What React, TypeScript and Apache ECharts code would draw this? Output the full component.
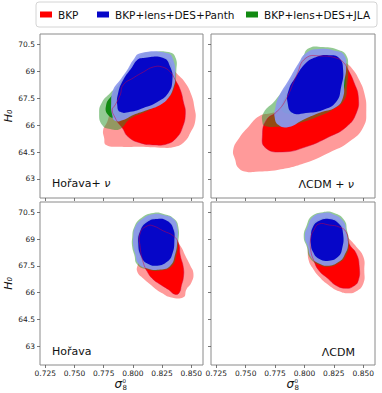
import React, { useEffect, useRef } from 'react';
import * as echarts from 'echarts';

const FONT = 'DejaVu Sans';

// axis settings (sigma_8^0 on x, H_0 on y)
const X_TICKS = [0.725, 0.75, 0.775, 0.8, 0.825, 0.85];
const Y_TICKS = [63, 64.5, 66, 67.5, 69, 70.5];
const X_MIN = 0.7205;
const X_MAX = 0.86;
const Y_MIN = 61.94;
const Y_MAX = 71.08;

const SERIES_NAMES = ['BKP', 'BKP+lens+DES+Panth', 'BKP+lens+DES+JLA'];
const PANEL_LABELS = ['Hořava+ ν', 'ΛCDM + ν', 'Hořava', 'ΛCDM'];

// ---------- Panel 1: Hořava + ν ----------
const HNU_BKP_95 = [[0.7754,65.29],[0.7771,64.90],[0.7891,64.79],[0.8063,64.79],[0.8234,64.74],[0.8363,64.79],[0.8441,65.07],[0.8492,65.57],[0.8535,66.29],[0.8526,67.01],[0.8501,67.68],[0.8449,68.35],[0.8380,68.85],[0.8295,69.35],[0.8174,69.46],[0.8063,69.07],[0.7951,68.35],[0.7866,67.40],[0.7806,66.68],[0.7780,66.18],[0.7746,65.74]];
const HNU_BKP_68 = [[0.7909,65.85],[0.7960,65.35],[0.8063,65.01],[0.8192,64.90],[0.8295,64.96],[0.8372,65.29],[0.8423,65.85],[0.8449,66.68],[0.8432,67.29],[0.8406,67.96],[0.8363,68.51],[0.8320,68.96],[0.8252,69.24],[0.8174,69.24],[0.8089,68.96],[0.8003,68.63],[0.7917,68.24],[0.7891,67.68],[0.7849,67.13],[0.7823,66.85],[0.7849,66.40],[0.7874,66.13]];
const HNU_JLA_95 = [[0.7737,67.29],[0.7806,67.79],[0.7891,68.35],[0.7977,69.24],[0.8063,69.90],[0.8174,70.07],[0.8303,70.07],[0.8363,69.79],[0.8372,69.07],[0.8346,67.96],[0.8260,67.29],[0.8123,66.79],[0.7977,66.35],[0.7891,65.79],[0.7806,65.79],[0.7737,66.01],[0.7711,66.68]];
const HNU_JLA_68 = [[0.7771,67.13],[0.7823,67.68],[0.7891,68.35],[0.7977,69.07],[0.8063,69.63],[0.8192,69.79],[0.8303,69.63],[0.8338,68.96],[0.8320,68.07],[0.8234,67.40],[0.8106,66.96],[0.7960,66.57],[0.7866,66.40],[0.7788,66.57]];
const HNU_PAN_95 = [[0.8063,70.01],[0.8295,70.01],[0.8346,69.63],[0.8363,68.68],[0.8346,68.07],[0.8303,67.51],[0.8234,67.13],[0.8123,66.85],[0.8003,66.57],[0.7917,66.29],[0.7849,66.24],[0.7823,66.57],[0.7814,67.24],[0.7831,67.96],[0.7891,68.51],[0.7951,69.07],[0.8003,69.63]];
const HNU_PAN_68 = [[0.8089,69.74],[0.8260,69.74],[0.8320,69.24],[0.8338,68.51],[0.8303,67.79],[0.8209,67.29],[0.8089,66.96],[0.7977,66.74],[0.7891,66.74],[0.7866,67.13],[0.7874,67.79],[0.7917,68.51],[0.7994,69.24],[0.8037,69.63]];

// ---------- Panel 2: ΛCDM + ν ----------
const LNU_BKP_95 = [[0.7394,64.63],[0.7411,64.07],[0.7437,63.63],[0.7505,63.40],[0.7583,63.40],[0.7780,63.51],[0.8012,63.90],[0.8209,64.46],[0.8380,65.07],[0.8501,65.90],[0.8526,66.85],[0.8509,67.79],[0.8466,68.51],[0.8415,69.07],[0.8355,69.46],[0.8277,69.74],[0.8149,69.51],[0.8020,68.79],[0.7891,67.68],[0.7823,66.96],[0.7720,66.68],[0.7617,66.51],[0.7522,65.90],[0.7445,65.29]];
const LNU_BKP_68 = [[0.7643,65.46],[0.7668,64.74],[0.7814,64.51],[0.8012,64.79],[0.8209,65.35],[0.8355,65.90],[0.8441,66.68],[0.8458,67.57],[0.8423,68.35],[0.8372,69.07],[0.8329,69.51],[0.8269,69.74],[0.8149,69.85],[0.8012,69.74],[0.7934,68.79],[0.7840,67.40],[0.7763,66.74],[0.7677,66.29]];
const LNU_JLA_95 = [[0.7643,66.13],[0.7651,66.68],[0.7754,67.40],[0.7900,68.68],[0.7986,69.79],[0.8037,70.29],[0.8157,70.35],[0.8295,70.18],[0.8355,69.90],[0.8372,69.24],[0.8363,68.24],[0.8338,67.40],[0.8234,66.85],[0.8106,66.46],[0.7986,66.18],[0.7840,65.96],[0.7728,65.90],[0.7660,65.96]];
const LNU_JLA_68 = [[0.7823,67.40],[0.7934,68.51],[0.8020,69.46],[0.8149,69.79],[0.8277,69.63],[0.8338,68.96],[0.8329,67.85],[0.8234,67.13],[0.8063,66.74],[0.7891,66.63],[0.7806,66.85]];
const LNU_PAN_95 = [[0.7754,67.01],[0.7780,67.57],[0.7866,68.51],[0.7951,69.46],[0.8012,70.01],[0.8123,70.24],[0.8269,70.13],[0.8338,69.90],[0.8355,69.24],[0.8338,68.35],[0.8329,67.57],[0.8269,67.01],[0.8123,66.68],[0.7986,66.29],[0.7866,65.90],[0.7780,66.01],[0.7746,66.46]];
const LNU_PAN_68 = [[0.7857,67.24],[0.7866,67.96],[0.7926,68.68],[0.8012,69.46],[0.8097,69.79],[0.8209,69.90],[0.8295,69.74],[0.8329,69.07],[0.8312,68.12],[0.8269,67.29],[0.8157,66.85],[0.8012,66.68],[0.7900,66.68]];

// ---------- Panel 3: Hořava ----------
const H_BKP_95 = [[0.8037,67.18],[0.8046,67.68],[0.8063,68.24],[0.8106,68.79],[0.8192,69.35],[0.8277,69.35],[0.8346,69.07],[0.8406,68.63],[0.8449,68.07],[0.8492,67.51],[0.8518,67.07],[0.8501,66.57],[0.8458,66.18],[0.8432,65.74],[0.8320,65.74],[0.8252,65.96],[0.8200,66.18],[0.8149,66.46],[0.8089,66.79]];
const H_BKP_68 = [[0.8063,69.35],[0.8123,69.74],[0.8174,69.74],[0.8260,69.46],[0.8346,69.18],[0.8389,68.79],[0.8406,68.07],[0.8432,67.40],[0.8432,66.85],[0.8415,66.40],[0.8398,66.01],[0.8363,65.90],[0.8303,66.18],[0.8234,66.46],[0.8166,66.79],[0.8123,67.18],[0.8089,67.68],[0.8063,68.51]];
const H_JLA_95 = [[0.7994,69.07],[0.8012,69.68],[0.8072,70.18],[0.8174,70.46],[0.8269,70.40],[0.8355,70.13],[0.8389,69.68],[0.8389,68.85],[0.8372,68.12],[0.8329,67.46],[0.8234,67.24],[0.8123,67.29],[0.8037,67.57],[0.8012,68.12],[0.7994,68.57]];
const H_JLA_68 = [[0.8054,69.46],[0.8114,70.01],[0.8209,70.18],[0.8303,70.01],[0.8355,69.57],[0.8363,68.85],[0.8346,68.12],[0.8295,67.68],[0.8209,67.46],[0.8114,67.57],[0.8063,68.01],[0.8037,68.74]];
const H_PAN_95 = [[0.8003,69.13],[0.8020,69.68],[0.8080,70.13],[0.8174,70.40],[0.8260,70.35],[0.8346,70.13],[0.8380,69.68],[0.8380,68.90],[0.8363,68.18],[0.8320,67.51],[0.8234,67.29],[0.8123,67.35],[0.8046,67.63],[0.8020,68.18],[0.8003,68.63]];
const H_PAN_68 = [[0.8063,69.46],[0.8123,69.96],[0.8209,70.13],[0.8295,70.01],[0.8346,69.57],[0.8355,68.90],[0.8338,68.18],[0.8295,67.74],[0.8209,67.51],[0.8123,67.63],[0.8072,68.01],[0.8046,68.74]];

// ---------- Panel 4: ΛCDM ----------
const L_BKP_95 = [[0.8029,68.35],[0.8037,69.07],[0.8106,69.74],[0.8192,69.96],[0.8277,69.74],[0.8372,69.07],[0.8441,68.57],[0.8501,68.01],[0.8509,67.24],[0.8501,66.51],[0.8441,66.07],[0.8372,65.96],[0.8295,66.07],[0.8209,66.40],[0.8123,66.90],[0.8072,67.35],[0.8037,67.79]];
const L_BKP_68 = [[0.8054,68.35],[0.8054,69.07],[0.8080,69.51],[0.8123,69.85],[0.8209,69.79],[0.8295,69.68],[0.8355,69.40],[0.8380,68.74],[0.8441,68.18],[0.8466,67.46],[0.8458,66.68],[0.8415,66.35],[0.8355,66.24],[0.8269,66.40],[0.8200,66.79],[0.8123,67.24],[0.8080,67.79]];
const L_JLA_95 = [[0.7994,69.13],[0.8020,69.79],[0.8063,70.29],[0.8157,70.51],[0.8252,70.46],[0.8338,70.07],[0.8363,69.46],[0.8380,68.74],[0.8346,68.01],[0.8295,67.68],[0.8209,67.46],[0.8123,67.57],[0.8046,67.96],[0.8020,68.57]];
const L_JLA_68 = [[0.8046,69.13],[0.8063,69.74],[0.8114,70.07],[0.8209,70.18],[0.8303,69.90],[0.8338,69.29],[0.8329,68.40],[0.8286,67.96],[0.8209,67.74],[0.8114,67.85],[0.8063,68.29],[0.8046,68.74]];
const L_PAN_95 = [[0.8003,69.13],[0.8029,69.74],[0.8072,70.24],[0.8157,70.46],[0.8243,70.40],[0.8329,70.01],[0.8355,69.46],[0.8372,68.74],[0.8338,68.07],[0.8295,67.74],[0.8209,67.51],[0.8123,67.63],[0.8054,68.01],[0.8029,68.57]];
const L_PAN_68 = [[0.8054,69.13],[0.8072,69.68],[0.8123,70.01],[0.8209,70.13],[0.8295,69.85],[0.8329,69.29],[0.8320,68.46],[0.8286,68.01],[0.8209,67.79],[0.8123,67.90],[0.8072,68.29],[0.8054,68.74]];

const PANELS = [
  { bkp: [HNU_BKP_95, HNU_BKP_68], jla: [HNU_JLA_95, HNU_JLA_68], pan: [HNU_PAN_95, HNU_PAN_68] },
  { bkp: [LNU_BKP_95, LNU_BKP_68], jla: [LNU_JLA_95, LNU_JLA_68], pan: [LNU_PAN_95, LNU_PAN_68] },
  { bkp: [H_BKP_95, H_BKP_68], jla: [H_JLA_95, H_JLA_68], pan: [H_PAN_95, H_PAN_68] },
  { bkp: [L_BKP_95, L_BKP_68], jla: [L_JLA_95, L_JLA_68], pan: [L_PAN_95, L_PAN_68] },
];

const GRIDS = [
  { left: 40, top: 34, width: 163, height: 164 },
  { left: 211, top: 34, width: 164, height: 164 },
  { left: 40, top: 202, width: 163, height: 163 },
  { left: 211, top: 202, width: 164, height: 163 },
];

const COLORS = {
  bkp: ['#ff9a9a', '#ff0000'],
  jla: ['rgba(40,150,40,0.5)', '#128a12'],
  pan: ['rgba(140,152,238,0.93)', '#0606c8'],
};
const LEGEND_COLORS = ['#ff0000', '#0606c8', '#128a12'];

function polySeries(name: string, panel: number, pts: number[][], fill: string, legendColor: string, stroke?: string) {
  return {
    type: 'custom',
    name,
    xAxisIndex: panel,
    yAxisIndex: panel,
    silent: true,
    itemStyle: { color: legendColor },
    encode: { x: 0, y: 1 },
    data: pts,
    renderItem: (params: any, api: any) => {
      if (params.dataIndex !== 0) return null;
      const points = pts.map((p) => api.coord(p));
      return {
        type: 'polygon',
        shape: { points, smooth: 0.5 },
        style: stroke ? { fill: 'none', stroke, lineWidth: 0.8 } : { fill },
      };
    },
  };
}

function buildOption() {
  const series: any[] = [];
  PANELS.forEach((p, i) => {
    series.push(polySeries(SERIES_NAMES[0], i, p.bkp[0], COLORS.bkp[0], LEGEND_COLORS[0]));
    series.push(polySeries(SERIES_NAMES[0], i, p.bkp[1], COLORS.bkp[1], LEGEND_COLORS[0]));
    series.push(polySeries(SERIES_NAMES[2], i, p.jla[0], COLORS.jla[0], LEGEND_COLORS[2]));
    series.push(polySeries(SERIES_NAMES[2], i, p.jla[1], COLORS.jla[1], LEGEND_COLORS[2]));
    series.push(polySeries(SERIES_NAMES[1], i, p.pan[0], COLORS.pan[0], LEGEND_COLORS[1]));
    series.push(polySeries(SERIES_NAMES[1], i, p.pan[1], COLORS.pan[1], LEGEND_COLORS[1]));
    series.push(polySeries('bkp-edge', i, p.bkp[1], 'none', LEGEND_COLORS[0], 'rgba(210,0,60,0.6)'));
  });

  const grid = GRIDS.map((g) => ({ ...g, show: true, borderColor: '#8a8a8a', borderWidth: 1, backgroundColor: '#fff' }));

  const xAxis = GRIDS.map((_, i) => ({
    type: 'value',
    gridIndex: i,
    min: X_MIN,
    max: X_MAX,
    splitLine: { show: false },
    axisLine: { show: false },
    axisTick: { show: true, length: 3, lineStyle: { color: '#555', width: 0.8 }, customValues: X_TICKS },
    axisLabel: {
      show: i >= 2,
      customValues: X_TICKS,
      formatter: (v: number) => v.toFixed(3),
      fontSize: 7.5,
      fontFamily: FONT,
      color: '#222',
      margin: 4,
    },
  }));

  const yAxis = GRIDS.map((_, i) => ({
    type: 'value',
    gridIndex: i,
    min: Y_MIN,
    max: Y_MAX,
    splitLine: { show: false },
    axisLine: { show: false },
    axisTick: { show: true, length: 3, lineStyle: { color: '#555', width: 0.8 }, customValues: Y_TICKS },
    axisLabel: {
      show: i % 2 === 0,
      customValues: Y_TICKS,
      formatter: (v: number) => String(v),
      fontSize: 7.5,
      fontFamily: FONT,
      color: '#222',
      margin: 5,
    },
    name: i % 2 === 0 ? 'H₀' : '',
    nameLocation: 'middle',
    nameGap: 22,
    nameRotate: 90,
    nameTextStyle: { fontStyle: 'italic', fontSize: 11, fontFamily: FONT, color: '#111' },
  }));

  const legend = [
    { name: SERIES_NAMES[0], left: 40 },
    { name: SERIES_NAMES[1], left: 97 },
    { name: SERIES_NAMES[2], left: 246 },
  ].map((l) => ({
    data: [l.name],
    left: l.left,
    top: 9,
    padding: 0,
    icon: 'rect',
    itemWidth: 12,
    itemHeight: 6,
    selectedMode: false,
    textStyle: { fontSize: 10.5, fontFamily: FONT, color: '#111', padding: [0, 0, 0, 1] },
  }));

  const labelPos = [
    { x: 52, y: 183, align: 'left' },
    { x: 354, y: 184, align: 'right' },
    { x: 52, y: 351, align: 'left' },
    { x: 355, y: 352, align: 'right' },
  ];

  const graphic: any[] = [
    {
      type: 'rect',
      shape: { x: 36, y: 2, width: 341, height: 25, r: 3 },
      style: { fill: 'none', stroke: '#d4d4d4', lineWidth: 1 },
      silent: true,
    },
  ];
  PANEL_LABELS.forEach((t, i) => {
    const hasNu = t.endsWith('ν');
    const base = hasNu ? t.slice(0, -1) : t;
    graphic.push({
      type: 'text',
      x: labelPos[i].x,
      y: labelPos[i].y,
      silent: true,
      style: {
        text: hasNu ? `{n|${base}}{i|ν}` : `{n|${base}}`,
        textAlign: labelPos[i].align,
        textVerticalAlign: 'middle',
        rich: {
          n: { fontSize: 11, fontFamily: FONT, fill: '#111', color: '#111' },
          i: { fontSize: 11, fontFamily: FONT, fontStyle: 'italic', fill: '#111', color: '#111' },
        },
      },
    });
  });
  [121, 293].forEach((cx) => {
    graphic.push({
      type: 'text', x: cx + 1, y: 384, silent: true,
      style: { text: 'σ', font: `italic 12px "${FONT}"`, fill: '#111', textAlign: 'right', textVerticalAlign: 'middle' },
    });
    graphic.push({
      type: 'text', x: cx + 1.5, y: 388, silent: true,
      style: { text: '8', font: `7px "${FONT}"`, fill: '#111', textAlign: 'left', textVerticalAlign: 'middle' },
    });
    graphic.push({
      type: 'text', x: cx + 1.5, y: 380.5, silent: true,
      style: { text: '0', font: `5.5px "${FONT}"`, fill: '#111', textAlign: 'left', textVerticalAlign: 'middle' },
    });
  });

  return {
    animation: false,
    backgroundColor: '#fff',
    grid,
    xAxis,
    yAxis,
    legend,
    graphic,
    series,
  };
}

export default function App() {
  const ref = useRef<HTMLDivElement>(null);
  useEffect(() => {
    if (!ref.current) return;
    const chart = echarts.init(ref.current, null, { renderer: 'svg' });
    chart.setOption(buildOption() as any);
    return () => chart.dispose();
  }, []);
  return (
    <div
      ref={ref}
      style={{ position: 'fixed', left: 0, top: 0, width: 382, height: 393, background: '#fff' }}
    />
  );
}
